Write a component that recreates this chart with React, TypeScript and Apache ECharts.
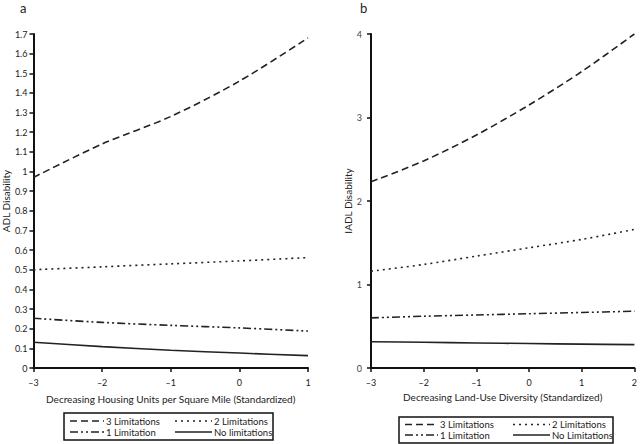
import React, { useEffect, useRef } from "react";
import * as echarts from "echarts";

// Panel a: ADL disability vs decreasing housing units per square mile
const xA = [-3, -2, -1, 0, 1];
const a3 = [0.97, 1.14, 1.28, 1.46, 1.68];
const a2 = [0.5, 0.515, 0.53, 0.545, 0.562];
const a1 = [0.253, 0.232, 0.217, 0.204, 0.188];
const a0 = [0.131, 0.109, 0.09, 0.076, 0.063];
const namesA = ["3 Limitations", "2 Limitations", "1 Limitation", "No limitations"];

// Panel b: IADL disability vs decreasing land-use diversity
const xB = [-3, -2, -1, 0, 1, 2];
const b3 = [2.23, 2.48, 2.79, 3.15, 3.55, 4.0];
const b2 = [1.16, 1.24, 1.34, 1.44, 1.54, 1.66];
const b1 = [0.6, 0.62, 0.635, 0.65, 0.665, 0.68];
const b0 = [0.315, 0.308, 0.3, 0.293, 0.286, 0.28];
const namesB = ["3 Limitations", "2 Limitations", "1 Limitation", "No Limitations"];

const FONT = "Lato, 'Open Sans', sans-serif";
const INK = "#222";
const DASHES: (number[] | "solid")[] = [[7, 4], [2, 4], [8, 3, 2, 3, 2, 3], "solid"];

function pairs(xs: number[], ys: number[]) {
  return xs.map((x, i) => [x, ys[i]]);
}

function fmtTick(v: number) {
  return String(v).replace("-", "\u2013");
}

function legendGraphics(
  names: string[],
  box: { x: number; y: number; w: number; h: number },
  rows: number[],
  leftLine: [number, number],
  rightLine: [number, number]
) {
  const els: any[] = [
    {
      type: "rect",
      shape: { x: box.x, y: box.y, width: box.w, height: box.h },
      style: { fill: "#fff", stroke: "#111", lineWidth: 1.5 },
    },
  ];
  const order = [
    { i: 0, line: leftLine, row: rows[0] },
    { i: 1, line: rightLine, row: rows[0] },
    { i: 2, line: leftLine, row: rows[1] },
    { i: 3, line: rightLine, row: rows[1] },
  ];
  order.forEach(({ i, line, row }) => {
    const d = DASHES[i];
    els.push({
      type: "line",
      shape: { x1: line[0], y1: row, x2: line[1], y2: row },
      style: {
        stroke: "#222",
        lineWidth: 1.5,
        lineDash: d === "solid" ? null : d,
      },
    });
    els.push({
      type: "text",
      x: line[1] + 2,
      y: row,
      style: {
        text: names[i],
        fill: INK,
        font: `9.5px ${FONT}`,
        textAlign: "left",
        textVerticalAlign: "middle",
      },
    });
  });
  return els;
}

export default function App() {
  const ref = useRef<HTMLDivElement>(null);
  useEffect(() => {
    if (!ref.current) return;
    const chart = echarts.init(ref.current, null, { renderer: "svg" });

    const axisCommon = {
      axisLine: { show: true, onZero: false, lineStyle: { color: "#111", width: 2 } },
      axisTick: { show: true, length: 4, lineStyle: { color: "#111", width: 1.5 } },
      splitLine: { show: false },
      nameTextStyle: { color: INK, fontFamily: FONT, fontSize: 10 },
    };

    const mkSeries = (
      names: string[],
      xs: number[],
      ys: number[][],
      idx: number
    ) =>
      ys.map((vals, i) => ({
        name: names[i],
        type: "line",
        xAxisIndex: idx,
        yAxisIndex: idx,
        data: pairs(xs, vals),
        smooth: 0.3,
        showSymbol: false,
        symbol: "none",
        lineStyle: {
          color: "#222",
          width: 1.6,
          type: DASHES[i] === "solid" ? "solid" : DASHES[i],
        },
      }));

    const option: any = {
      animation: false,
      backgroundColor: "#fff",
      grid: [
        { left: 33, top: 34, width: 275, height: 334 },
        { left: 371, top: 34, width: 267, height: 334 },
      ],
      xAxis: [
        {
          ...axisCommon,
          gridIndex: 0,
          type: "value",
          min: -3,
          max: 1,
          interval: 1,
          name: "Decreasing Housing Units per Square Mile (Standardized)",
          nameLocation: "middle",
          nameGap: 26,
          axisLabel: { color: INK, fontFamily: FONT, fontSize: 9, margin: 10, formatter: fmtTick },
        },
        {
          ...axisCommon,
          gridIndex: 1,
          type: "value",
          min: -3,
          max: 2,
          interval: 1,
          name: "Decreasing Land-Use Diversity (Standardized)",
          nameLocation: "middle",
          nameGap: 24,
          axisLabel: { color: INK, fontFamily: FONT, fontSize: 9, margin: 10, formatter: fmtTick },
        },
      ],
      yAxis: [
        {
          ...axisCommon,
          gridIndex: 0,
          type: "value",
          min: 0,
          max: 1.7,
          interval: 0.1,
          name: "ADL Disability",
          nameLocation: "middle",
          nameGap: 22,
          axisLabel: { color: INK, fontFamily: FONT, fontSize: 9, margin: 6 },
        },
        {
          ...axisCommon,
          gridIndex: 1,
          type: "value",
          min: 0,
          max: 4,
          interval: 1,
          name: "IADL Disability",
          nameLocation: "middle",
          nameGap: 18,
          axisLabel: { color: "#444", fontFamily: FONT, fontSize: 9, margin: 9 },
        },
      ],
      series: [
        ...mkSeries(namesA, xA, [a3, a2, a1, a0], 0),
        ...mkSeries(namesB, xB, [b3, b2, b1, b0], 1),
      ],
      graphic: [
        {
          type: "text",
          x: 20,
          y: 1,
          style: { text: "a", fill: INK, font: `13px ${FONT}` },
        },
        {
          type: "text",
          x: 360,
          y: 1,
          style: { text: "b", fill: INK, font: `13px ${FONT}` },
        },
        ...legendGraphics(namesA, { x: 64, y: 413, w: 209, h: 27 }, [421, 432], [70, 104], [175, 212]),
        ...legendGraphics(namesB, { x: 399, y: 417, w: 214, h: 26 }, [424.5, 435], [405, 438], [513, 550]),
      ],
    };

    chart.setOption(option);
    return () => chart.dispose();
  }, []);

  return (
    <div
      ref={ref}
      style={{ position: "fixed", left: 0, top: 0, width: 640, height: 444 }}
    />
  );
}
